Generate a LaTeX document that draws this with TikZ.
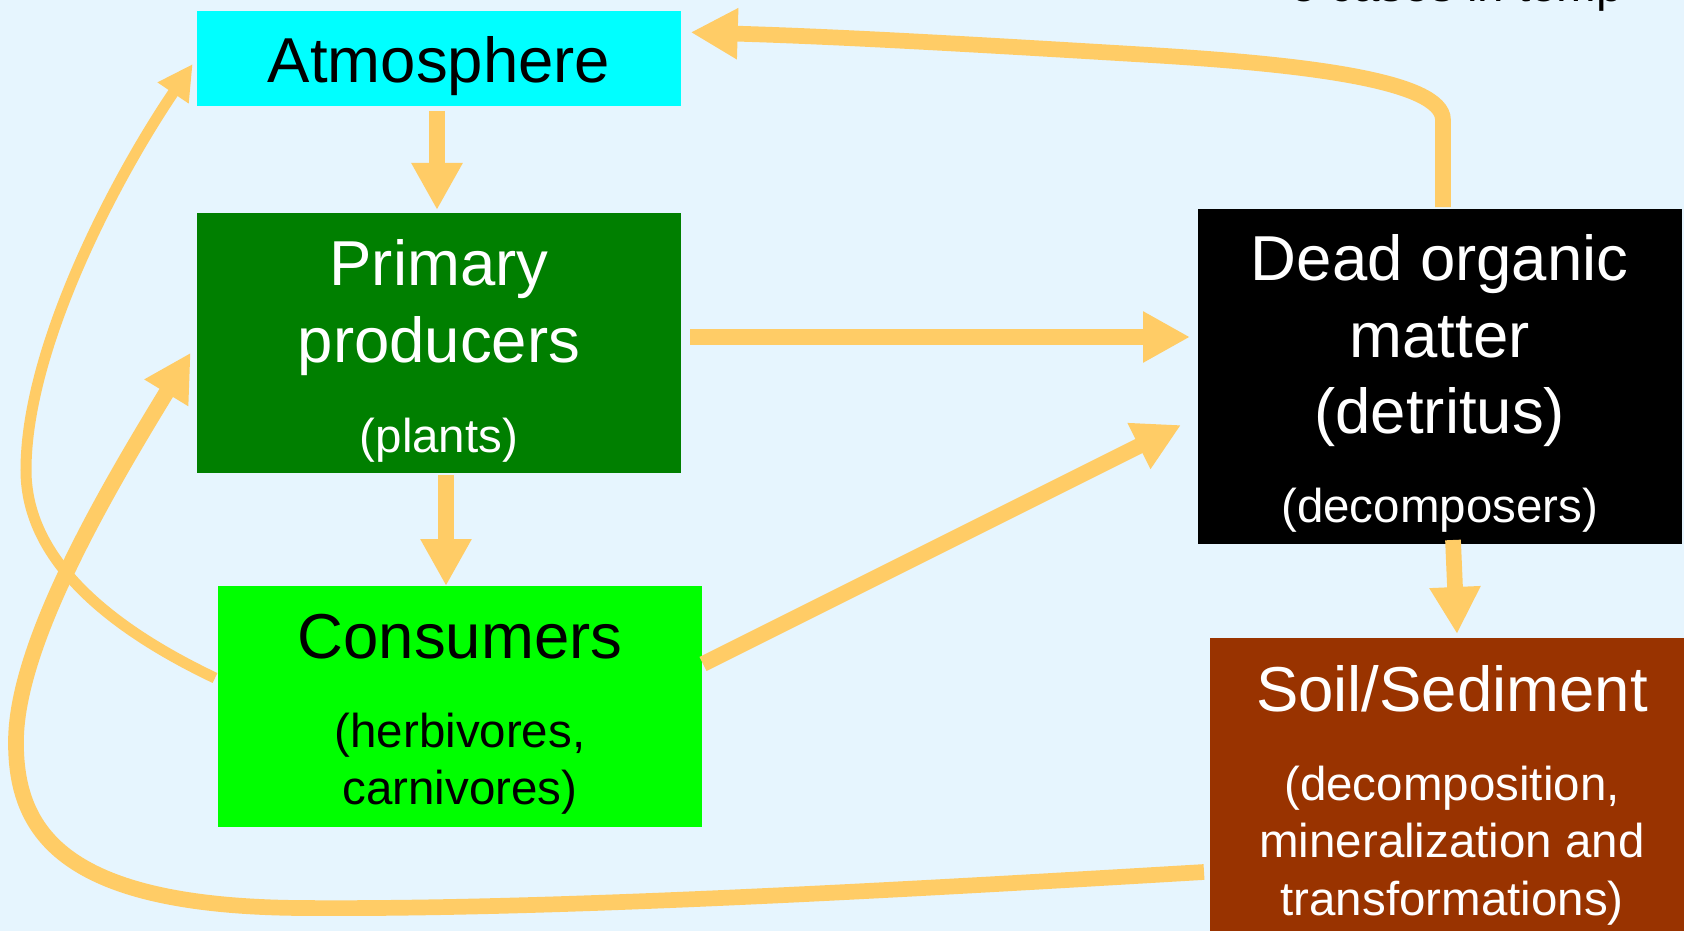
\documentclass[tikz,border=0pt]{standalone}
\usepackage{fontspec}
\setmainfont{Liberation Sans}
\usetikzlibrary{arrows.meta}
\definecolor{bgc}{HTML}{E6F5FE}
\definecolor{arrc}{HTML}{FFCC66}
\definecolor{atmc}{HTML}{00FFFF}
\definecolor{primc}{HTML}{007F00}
\definecolor{consc}{HTML}{00FF00}
\definecolor{soilc}{HTML}{993300}
\newcommand\mainfs{\fontsize{63.5}{76.5}\selectfont}
\newcommand\subfs{\fontsize{47.5}{57.5}\selectfont}
\newcommand\boxtext[1]{\parbox[t]{484pt}{\centering #1}}
\tikzset{
  box/.style={rectangle, inner sep=0pt, outer sep=0pt, anchor=north west},
  flow/.style={draw=arrc, line width=15.7pt, -{Triangle[length=47pt,width=48pt]}},
  thinflow/.style={draw=arrc, line width=11pt, -{Triangle[length=35pt,width=35pt]}},
}
\begin{document}
\begin{tikzpicture}[x=1pt,y=-1pt]
\useasboundingbox (0,0) rectangle (1684,931);
\fill[bgc] (0,0) rectangle (1684,931);
\begin{scope}
\clip (0,0) rectangle (1684,931);
\node[box, fill=atmc, text=black, text height=72.3pt, text depth=22.7pt] (atm) at (197,10.7) {\boxtext{\mainfs Atmosphere}};
\node[box, fill=primc, text=white, text height=72.7pt, text depth=187pt] (prim) at (197,213) {\boxtext{\mainfs Primary\\producers\par\vspace{32.5pt}\subfs (plants)}};
\node[box, fill=consc, text=black, text height=72pt, text depth=168.7pt] (cons) at (218,586) {\boxtext{\mainfs Consumers\par\vspace{31.5pt}\subfs (herbivores,\\carnivores)}};
\node[box, fill=black, text=white, text height=71.7pt, text depth=263.6pt] (dead) at (1197.7,209) {\boxtext{\mainfs Dead organic\\matter\\(detritus)\par\vspace{30.8pt}\subfs (decomposers)}};
\node[box, fill=soilc, text=white, text height=73.3pt, text depth=229pt] (soil) at (1210,637.7) {\boxtext{\mainfs Soil/Sediment\par\vspace{31.5pt}\subfs (decomposition,\\mineralization and\\transformations)}};
\node[anchor=base west, inner sep=0pt, font=\subfs] (note) at (1290,1.2) {e cases in temp};
\end{scope}
% connectors
\draw[flow] ([xshift=-2pt,yshift=-5.3pt]atm.south) -- ([xshift=-2pt,yshift=3pt]prim.north);
\draw[flow] ([xshift=7pt,yshift=-2.3pt]prim.south) -- ([xshift=-14pt]cons.north);
\draw[flow] ([xshift=9pt,yshift=5.85pt]prim.east) -- ([xshift=-7.7pt,yshift=39.65pt]dead.west);
\draw[flow] ([xshift=1pt,yshift=42.35pt]cons.east) -- ([xshift=-16.7pt,yshift=-48.35pt]dead.west);
\draw[flow] ([xshift=13.3pt,yshift=4.3pt]dead.south) -- ([xshift=5pt,yshift=3.7pt]soil.north);
\draw[flow] ([xshift=3.3pt,yshift=2pt]dead.north) -- ++(0,-87)
  .. controls (1443,80) and (1300,64) .. (1150,55)
  .. controls (1000,46) and (850,37) .. ([xshift=9.7pt,yshift=25.9pt]atm.east);
\draw[thinflow] ([xshift=-3pt,yshift=28.35pt]cons.west)
  .. controls (110,628) and (26,560) .. (26,470)
  .. controls (26,350) and (112.7,182) .. ([xshift=-4.3pt,yshift=-5.8pt]atm.west);
\draw[flow] ([xshift=-6pt,yshift=-83.15pt]soil.west)
  .. controls (900,890) and (550,910) .. (300,908)
  .. controls (60,906) and (15,830) .. (16,740)
  .. controls (17,640) and (112.7,480.8) .. ([xshift=-6.3pt,yshift=-9.85pt]prim.west);
\end{tikzpicture}
\end{document}
